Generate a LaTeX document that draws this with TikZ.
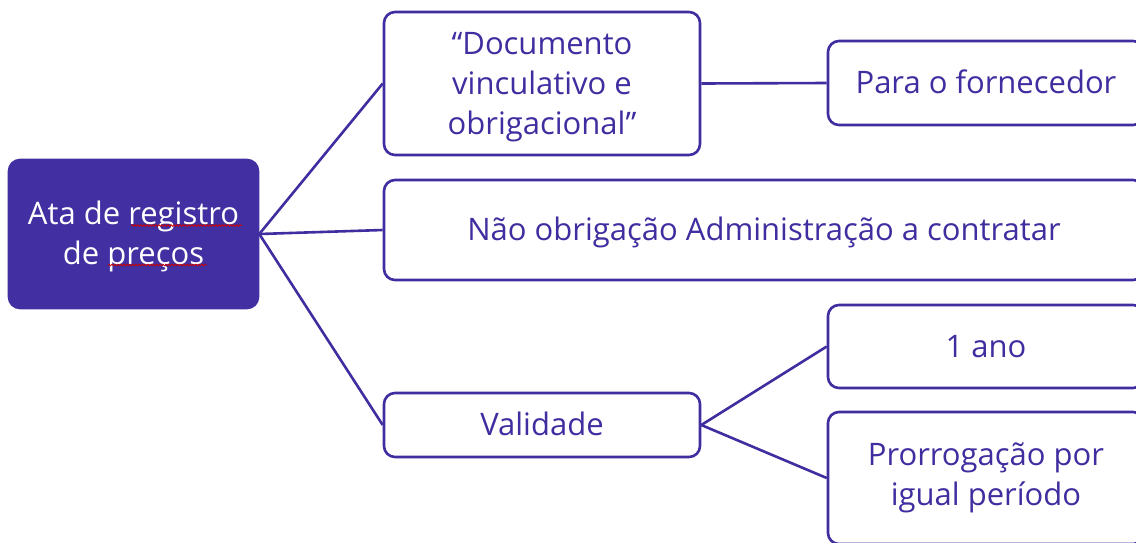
\documentclass[tikz,border=0pt]{standalone}
\usepackage{fontspec}
\setmainfont{Open Sans}
\usetikzlibrary{decorations.pathmorphing}
\definecolor{ink}{RGB}{64,46,160}
\definecolor{rootfill}{RGB}{66,48,162}
\tikzset{
  box/.style={draw=ink, line width=2.6pt, rounded corners=11pt, fill=white, text=ink,
    align=center, inner sep=0pt, font=\fontsize{31}{40}\selectfont},
  oneline/.style={text height=27pt, text depth=6pt},
  rootbox/.style={box, fill=rootfill, draw=rootfill, text=white},
  link/.style={draw=ink, line width=2.6pt},
  squig/.style={draw=red!80!black, line width=0.8pt, decorate,
    decoration={snake, amplitude=0.8pt, segment length=3pt}}
}
\begin{document}
\begin{tikzpicture}[x=1pt,y=-1pt]
\useasboundingbox (0,0) rectangle (1136,542);
\clip (0,0) rectangle (1136,542);
\fill[white] (0,0) rectangle (1136,542);
\node[rootbox, minimum width=249pt, minimum height=148pt, text depth=3pt] (root) at (133.5,234) {Ata de registro\\de preços};
\node[box, minimum width=316pt, minimum height=143pt, text depth=0pt] (doc) at (542,83.5) {“Documento\\vinculativo e\\obrigacional”};
\node[box, oneline, minimum width=316pt, minimum height=84pt] (para) at (986,83) {Para o fornecedor};
\node[box, oneline, minimum width=760pt, minimum height=100pt] (nao) at (764,230) {Não obrigação Administração a contratar};
\node[box, oneline, minimum width=316pt, minimum height=64pt] (val) at (542,425) {Validade};
\node[box, oneline, minimum width=316pt, minimum height=83pt] (ano) at (986,346.5) {1 ano};
\node[box, minimum width=316pt, minimum height=132pt] (pror) at (986,478) {Prorrogação por\\igual período};
\draw[link] (root.east) -- (doc.west);
\draw[link] (root.east) -- (nao.west);
\draw[link] (root.east) -- (val.west);
\draw[link] (doc.east) -- (para.west);
\draw[link] (val.east) -- (ano.west);
\draw[link] (val.east) -- (pror.west);
\draw[squig] (131,225.5) -- (242,225.5);
\draw[squig] (108,265) -- (207,265);
\end{tikzpicture}
\end{document}
